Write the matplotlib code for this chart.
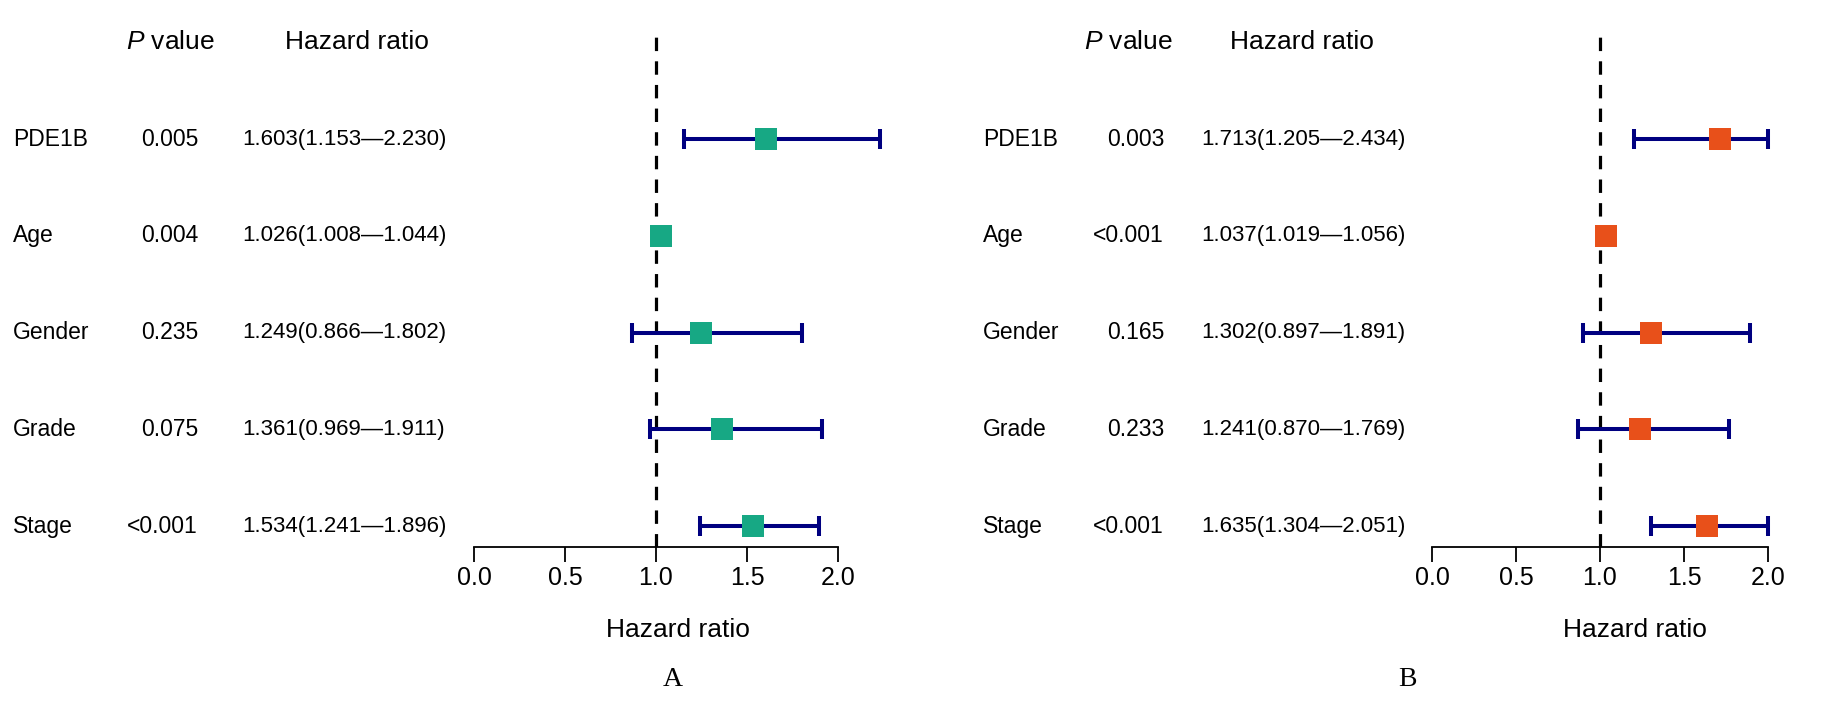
import matplotlib.pyplot as plt
from matplotlib.transforms import blended_transform_factory

plt.rcParams['font.family'] = ['Liberation Sans', 'DejaVu Sans']
plt.rcParams['mathtext.fontset'] = 'custom'
plt.rcParams['mathtext.it'] = 'Liberation Sans:italic'
plt.rcParams['mathtext.rm'] = 'Liberation Sans'

# data
genes = ['PDE1B', 'Age', 'Gender', 'Grade', 'Stage']

pval_a = ['0.005', '0.004', '0.235', '0.075', '<0.001']
hr_a = [1.603, 1.026, 1.249, 1.361, 1.534]
lo_a = [1.153, 1.008, 0.866, 0.969, 1.241]
hi_a = [2.230, 1.044, 1.802, 1.911, 1.896]

pval_b = ['0.003', '<0.001', '0.165', '0.233', '<0.001']
hr_b = [1.713, 1.037, 1.302, 1.241, 1.635]
lo_b = [1.205, 1.019, 0.897, 0.870, 1.304]
hi_b = [2.434, 1.056, 1.891, 1.769, 2.051]

ticks = [0.0, 0.5, 1.0, 1.5, 2.0]

W, H = 1846, 707
fig = plt.figure(figsize=(W / 100, H / 100), dpi=100)


def fx(px):
    return px / W


def fy(py):
    return 1 - py / H


def panel(x0, x1, pvals, hr, lo, hi, color, cols, letter, letter_x, xlab_x, clip=None):
    ax = fig.add_axes([fx(x0), fy(547), fx(x1 - x0), 517 / H])
    ax.set_xlim(0, 2)
    ax.set_ylim(0.783, 6.127)
    n = len(genes)
    ys = [n - i for i in range(n)]

    # whiskers drawn up to the panel's clip limit (panel B is cut at 2.0)
    hi_draw = [min(u, clip) if clip else u for u in hi]

    ax.axvline(1.0, color='black', lw=2.3, dashes=(4.2, 3.2), zorder=1)
    ax.errorbar(hr, ys, xerr=[[h - l for h, l in zip(hr, lo)], [u - h for h, u in zip(hr, hi_draw)]],
                fmt='none', ecolor='#000080', elinewidth=2.9, capsize=7.2, capthick=2.9,
                clip_on=False, zorder=2)
    ax.plot(hr, ys, 's', color=color, markersize=16.5, markeredgewidth=0, clip_on=False, zorder=3)

    for s in ['left', 'right', 'top']:
        ax.spines[s].set_visible(False)
    ax.spines['bottom'].set_linewidth(1.3)
    ax.set_yticks([])
    ax.set_xticks(ticks)
    ax.set_xticklabels(['%.1f' % t for t in ticks], fontsize=18)
    ax.tick_params(axis='x', length=11, width=1.3, pad=3)

    tr = blended_transform_factory(fig.transFigure, ax.transData)
    lab_x, p_x, hr_x, ph_x, hh_x = cols
    ax.text(fx(ph_x), 6.0, r'$\it{P}$ value', transform=tr, ha='center', va='center', fontsize=19)
    ax.text(fx(hh_x), 6.0, 'Hazard ratio', transform=tr, ha='center', va='center', fontsize=19)
    for i in range(n):
        ax.text(fx(lab_x), ys[i], genes[i], transform=tr, ha='left', va='center', fontsize=16.5)
        ax.text(fx(p_x), ys[i], pvals[i], transform=tr, ha='right', va='center', fontsize=16.5)
        ax.text(fx(hr_x), ys[i], '%.3f(%.3f\u2014%.3f)' % (hr[i], lo[i], hi[i]), transform=tr,
                ha='center', va='center', fontsize=16)

    fig.text(fx(xlab_x), fy(630), 'Hazard ratio', ha='center', va='center', fontsize=19)
    fig.text(fx(letter_x), fy(679), letter, ha='center', va='center', fontsize=20,
             family='Liberation Serif')
    return ax


panel(474, 838, pval_a, hr_a, lo_a, hi_a, '#17A884', (13, 198, 344, 170, 357), 'A', 673, 678)
panel(1432, 1768, pval_b, hr_b, lo_b, hi_b, '#E8501A', (983, 1164, 1303, 1128, 1302), 'B', 1407, 1635,
      clip=2.0)

fig.savefig('out.png', dpi=100)
